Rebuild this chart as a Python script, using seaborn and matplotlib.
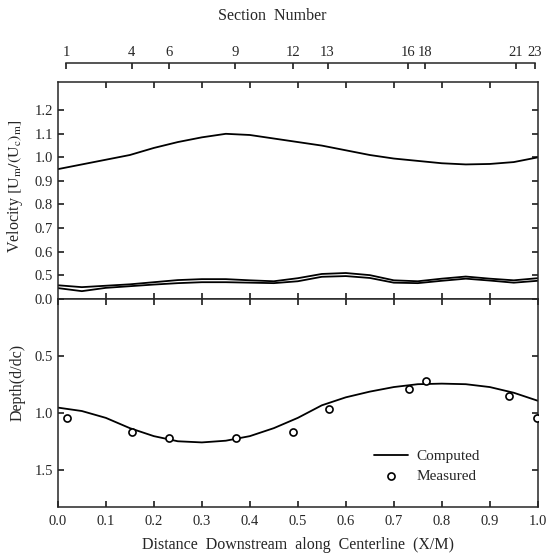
import matplotlib
matplotlib.use("Agg")
import matplotlib.pyplot as plt
import numpy as np
import pandas as pd
import seaborn as sns

# distance downstream (X/M) at which the computed curves were read
x_grid = [0.0, 0.05, 0.1, 0.15, 0.2, 0.25, 0.3, 0.35, 0.4, 0.45, 0.5,
          0.55, 0.6, 0.65, 0.7, 0.75, 0.8, 0.85, 0.9, 0.95, 1.0]

# velocity: centreline (upper) and the two near-bank curves (lower pair)
vel_center = [0.95, 0.97, 0.99, 1.01, 1.04, 1.065, 1.085, 1.10, 1.095, 1.08, 1.065,
              1.05, 1.03, 1.01, 0.995, 0.985, 0.975, 0.97, 0.972, 0.98, 1.0]
vel_bank_a = [0.457, 0.449, 0.455, 0.461, 0.470, 0.479, 0.483, 0.483, 0.478, 0.474, 0.487,
              0.505, 0.509, 0.500, 0.478, 0.474, 0.485, 0.494, 0.485, 0.478, 0.487]
vel_bank_b = [0.445, 0.432, 0.446, 0.453, 0.460, 0.466, 0.470, 0.470, 0.468, 0.466, 0.474,
              0.493, 0.496, 0.488, 0.468, 0.466, 0.476, 0.485, 0.477, 0.468, 0.476]

# depth (d/dc)
depth_computed = [0.95, 0.98, 1.04, 1.13, 1.20, 1.245, 1.255, 1.24, 1.20, 1.13, 1.04,
                  0.93, 0.86, 0.81, 0.77, 0.745, 0.74, 0.745, 0.77, 0.82, 0.89]
measured_x = [0.02, 0.155, 0.232, 0.372, 0.49, 0.565, 0.732, 0.768, 0.94, 0.998]
measured_depth = [1.04, 1.16, 1.22, 1.22, 1.16, 0.965, 0.79, 0.72, 0.85, 1.04]

# section numbers along the top
section_labels = ["1", "4", "6", "9", "12", "13", "16", "18", "21", "23"]
section_pos = [0.017, 0.154, 0.231, 0.370, 0.491, 0.562, 0.730, 0.766, 0.955, 0.994]

sns.set_theme(style="ticks")
plt.rcParams.update({
    "font.family": ["Liberation Serif", "DejaVu Serif"],
    "mathtext.fontset": "stix",
    "font.size": 10.5,
    "axes.linewidth": 1.1,
    "xtick.direction": "in",
    "ytick.direction": "in",
    "xtick.major.size": 4,
    "ytick.major.size": 4,
})

fig = plt.figure(figsize=(5.51, 5.54), dpi=100)
left, width = 0.105, 0.871
ax_v = fig.add_axes([left, 0.460, width, 0.392])
ax_d = fig.add_axes([left, 0.085, width, 0.375])

vel = pd.DataFrame({"x": x_grid, "center": vel_center, "a": vel_bank_a, "b": vel_bank_b})
for col in ["center", "a", "b"]:
    sns.lineplot(data=vel, x="x", y=col, ax=ax_v, color="black", linewidth=1.3)
ax_v.set_xlim(0, 1)
ax_v.set_ylim(0.398, 1.32)
yt = [0.4, 0.5, 0.6, 0.7, 0.8, 0.9, 1.0, 1.1, 1.2]
ax_v.set_yticks(yt)
ax_v.set_yticklabels([""] + [f"{v:.1f}" for v in yt[1:]], fontsize=10.5)
ax_v.set_xticks(np.arange(0.1, 1.0, 0.1))
ax_v.tick_params(axis="x", top=True, bottom=True, labelbottom=False,
                 direction="in", length=4)
ax_v.tick_params(axis="y", left=True, right=True, direction="in", length=4)
ax_v.set_xlabel("")
ax_v.set_ylabel(r"Velocity $[\mathrm{U_m}/(\mathrm{U_c})_\mathrm{m}]$", fontsize=11.5)
ax_v.yaxis.set_label_coords(-0.068, 0.52)

dep = pd.DataFrame({"x": x_grid, "depth": depth_computed})
meas = pd.DataFrame({"x": measured_x, "depth": measured_depth})
sns.lineplot(data=dep, x="x", y="depth", ax=ax_d, color="black", linewidth=1.3,
             label="Computed")
sns.scatterplot(data=meas, x="x", y="depth", ax=ax_d, marker="o", s=26,
                facecolor="white", edgecolor="black", linewidth=1.2, label="Measured",
                zorder=3)
ax_d.set_xlim(0, 1)
ax_d.set_ylim(1.82, 0.0)
ax_d.set_yticks([0.0, 0.5, 1.0, 1.5])
ax_d.set_yticklabels(["0.0", "0.5", "1.0", "1.5"], fontsize=10.5)
ax_d.set_xticks(np.arange(0, 1.01, 0.1))
ax_d.set_xticklabels([f"{v:.1f}" for v in np.arange(0, 1.01, 0.1)], fontsize=10.5)
ax_d.tick_params(axis="x", top=True, bottom=True, labeltop=False, direction="in",
                 length=4, pad=6)
ax_d.tick_params(axis="y", left=True, right=True, direction="in", length=4)
ax_d.set_xlabel("Distance  Downstream  along  Centerline  (X/M)", fontsize=11.5, labelpad=6)
ax_d.set_ylabel("Depth(d/dc)", fontsize=11.5)
ax_d.yaxis.set_label_coords(-0.068, 0.60)
ax_d.legend(loc="center left", bbox_to_anchor=(0.63, 0.195), frameon=False,
            handlelength=2.2, handletextpad=0.6, labelspacing=0.4, fontsize=11)

# section-number scale above the plot
ax_s = fig.add_axes([left, 0.886, width, 1e-4])
ax_s.set_xlim(0, 1)
for side in ["left", "right", "bottom"]:
    ax_s.spines[side].set_visible(False)
ax_s.spines["top"].set_bounds(section_pos[0], section_pos[-1])
ax_s.set_yticks([])
ax_s.set_xticks(section_pos)
ax_s.set_xticklabels(section_labels, fontsize=10.5)
ax_s.tick_params(axis="x", top=True, labeltop=True, bottom=False, labelbottom=False,
                 direction="in", length=4, pad=3)
ax_s.patch.set_visible(False)
fig.text(0.494, 0.972, "Section  Number", ha="center", va="center", fontsize=11.5)

fig.savefig("out.png", dpi=100, facecolor="white")
